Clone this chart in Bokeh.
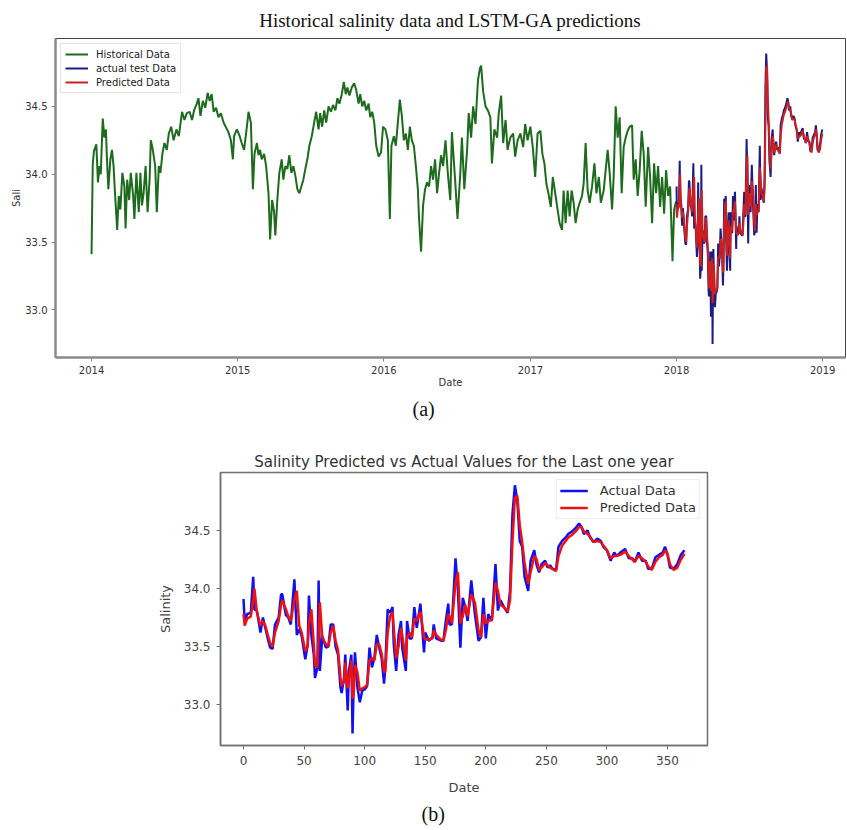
import numpy as np
from datetime import datetime
from bokeh.plotting import figure
from bokeh.models import (Range1d, FixedTicker, DatetimeTickFormatter, Title,
                          Legend, LegendItem, PrintfTickFormatter)
from bokeh.embed import file_html
from bokeh.resources import INLINE

# ---------------- data ----------------
# historical salinity: day offset from 2014-01-01, value
hist_day = [0, 3, 6, 12, 16, 20, 23, 28, 32, 36, 38, 42, 47, 51, 55, 59, 64, 68, 72, 77,
            82, 85, 89, 94, 98, 104, 107, 112, 118, 122, 126, 130, 135, 140, 145, 148, 153, 159, 163, 168,
            172, 177, 182, 188, 193, 199, 205, 212, 218, 226, 232, 238, 245, 251, 256, 263, 267, 272, 278, 284,
            290, 295, 300, 305, 311, 317, 323, 330, 335, 342, 348, 353, 356, 363, 370, 375, 381, 388, 392, 398,
            403, 407, 413, 417, 421, 425, 431, 436, 442, 446, 451, 456, 459, 464, 469, 475, 479, 484, 489, 494,
            499, 504, 509, 514, 519, 524, 529, 534, 539, 544, 550, 556, 561, 567, 571, 576, 581, 586, 592, 598,
            603, 609, 614, 619, 625, 630, 635, 639, 644, 650, 656, 661, 667, 671, 676, 681, 686, 692, 696, 701,
            706, 711, 717, 723, 728, 734, 740, 745, 749, 755, 760, 765, 770, 775, 780, 785, 790, 795, 800, 805,
            810, 815, 818, 823, 828, 833, 838, 843, 848, 853, 858, 863, 868, 873, 878, 884, 890, 896, 900, 908,
            914, 921, 925, 931, 938, 942, 948, 953, 959, 965, 970, 973, 978, 984, 990, 996, 1000, 1006, 1013, 1017,
            1023, 1028, 1034, 1039, 1046, 1053, 1058, 1064, 1071, 1078, 1083, 1089, 1096, 1102, 1108, 1114, 1121, 1126, 1131, 1136,
            1141, 1147, 1152, 1158, 1164, 1169, 1175, 1179, 1184, 1189, 1194, 1199, 1204, 1209, 1214, 1219, 1225, 1229, 1234, 1239,
            1244, 1250, 1256, 1261, 1267, 1272, 1279, 1284, 1289, 1294, 1300, 1304, 1309, 1314, 1319, 1324, 1329, 1334, 1339, 1344,
            1350, 1354, 1359, 1364, 1369, 1374, 1379, 1384, 1390, 1395, 1400, 1405, 1410, 1415, 1420, 1425, 1430, 1435, 1440, 1445,
            1451, 1455, 1460]
hist_sal = [33.41, 34.07, 34.17, 34.22, 33.94, 34.06, 34.00, 34.41, 34.27, 34.33, 34.15, 33.89, 34.11, 34.18, 34.06, 33.84, 33.59, 33.84, 33.74, 34.01,
            33.91, 33.60, 33.96, 33.81, 34.01, 33.84, 33.67, 34.01, 33.72, 34.01, 33.77, 33.86, 34.06, 33.72, 33.96, 34.25, 34.18, 34.06, 33.72, 34.06,
            34.01, 34.15, 34.23, 34.18, 34.30, 34.35, 34.25, 34.33, 34.28, 34.46, 34.40, 34.45, 34.46, 34.40, 34.47, 34.52, 34.56, 34.43, 34.54, 34.49,
            34.60, 34.54, 34.59, 34.46, 34.49, 34.42, 34.45, 34.38, 34.35, 34.31, 34.25, 34.11, 34.28, 34.33, 34.28, 34.23, 34.18, 34.35, 34.46, 34.38,
            33.89, 34.15, 34.23, 34.14, 34.18, 34.11, 34.15, 34.06, 33.86, 33.52, 33.81, 33.72, 33.55, 33.81, 34.01, 34.11, 33.96, 34.06, 34.04, 34.14,
            34.01, 34.06, 33.99, 33.89, 33.86, 33.91, 33.96, 34.04, 34.11, 34.21, 34.28, 34.38, 34.46, 34.33, 34.45, 34.35, 34.47, 34.38, 34.50, 34.46,
            34.51, 34.47, 34.56, 34.52, 34.59, 34.68, 34.59, 34.64, 34.58, 34.64, 34.67, 34.62, 34.52, 34.59, 34.50, 34.54, 34.47, 34.52, 34.42, 34.46,
            34.38, 34.21, 34.13, 34.16, 34.35, 34.33, 34.25, 33.67, 34.21, 34.28, 34.21, 34.38, 34.55, 34.43, 34.25, 34.30, 34.18, 34.35, 34.25, 34.21,
            34.06, 33.89, 33.67, 33.43, 33.77, 33.89, 33.94, 33.91, 34.06, 33.96, 34.11, 33.86, 34.01, 34.14, 34.06, 34.25, 34.00, 33.81, 34.31, 33.96,
            33.67, 34.01, 34.27, 33.89, 34.18, 34.45, 34.27, 34.50, 34.37, 34.69, 34.78, 34.80, 34.61, 34.50, 34.47, 34.42, 34.08, 34.33, 34.27, 34.45,
            34.58, 34.23, 34.40, 34.18, 34.27, 34.30, 34.13, 34.25, 34.30, 34.20, 34.37, 34.25, 34.35, 34.20, 33.98, 34.30, 34.32, 34.15, 34.08, 33.93,
            33.86, 33.76, 33.98, 33.86, 33.74, 33.64, 33.59, 33.88, 33.64, 33.88, 33.69, 33.88, 33.79, 33.64, 33.74, 33.79, 33.84, 33.93, 34.23, 33.88,
            33.79, 33.91, 34.08, 33.86, 33.98, 33.79, 33.88, 34.03, 34.18, 34.01, 33.74, 33.98, 34.50, 34.27, 34.42, 33.86, 34.20, 34.27, 34.32, 34.35,
            34.36, 33.96, 34.11, 33.84, 34.03, 34.32, 34.15, 33.76, 34.20, 33.98, 33.64, 34.08, 33.86, 34.06, 33.76, 33.98, 33.71, 34.03, 33.84, 33.91,
            33.36, 33.74, 33.80]

# last year (test period): day index from 2018-01-01
test_day = [0, 1, 3, 6, 8, 9, 11, 14, 16, 18, 20, 22, 24, 26, 29, 31, 32, 35, 37, 39,
            42, 44, 46, 48, 51, 53, 54, 56, 58, 59, 61, 62, 63, 65, 68, 70, 72, 74, 76, 78,
            80, 81, 83, 84, 86, 87, 89, 90, 91, 92, 94, 96, 98, 100, 102, 104, 106, 108, 110, 112,
            114, 116, 117, 119, 121, 123, 124, 126, 128, 130, 131, 134, 135, 137, 139, 141, 143, 146, 149, 150,
            153, 156, 157, 159, 163, 165, 167, 169, 170, 172, 175, 177, 179, 181, 183, 185, 188, 191, 194, 196,
            198, 200, 202, 205, 208, 210, 212, 215, 218, 220, 222, 224, 226, 228, 230, 232, 235, 237, 240, 242,
            244, 246, 249, 251, 253, 255, 258, 260, 263, 266, 268, 271, 274, 277, 279, 281, 284, 286, 289, 292,
            295, 297, 300, 303, 306, 308, 311, 315, 318, 321, 323, 326, 329, 332, 334, 337, 340, 343, 346, 348,
            350, 352, 355, 358, 361, 364]
actual_sal = [33.91, 33.71, 33.78, 33.79, 34.10, 33.82, 33.81, 33.62, 33.75, 33.66, 33.57, 33.49, 33.48, 33.69, 33.75, 33.95, 33.95, 33.77, 33.75, 33.69,
              34.08, 33.60, 33.65, 33.59, 33.39, 33.52, 33.94, 33.60, 33.43, 33.23, 33.32, 34.07, 33.29, 33.59, 33.49, 33.50, 33.69, 33.69, 33.50, 33.43,
              33.15, 33.10, 33.23, 33.43, 32.95, 33.29, 33.43, 32.75, 33.20, 33.45, 33.15, 33.02, 33.12, 33.13, 33.16, 33.49, 33.32, 33.40, 33.60, 33.49,
              33.40, 33.18, 33.32, 33.82, 33.79, 33.84, 33.52, 33.29, 33.60, 33.72, 33.49, 33.29, 33.72, 33.57, 33.57, 33.84, 33.66, 33.87, 33.45, 33.62,
              33.55, 33.58, 33.69, 33.57, 33.55, 33.55, 33.72, 33.87, 33.69, 33.69, 34.26, 33.98, 33.49, 33.92, 33.84, 33.72, 34.07, 33.78, 33.55, 33.58,
              33.92, 33.57, 33.78, 33.72, 34.21, 33.81, 33.90, 33.84, 33.79, 33.98, 34.64, 34.89, 34.76, 34.41, 34.36, 34.10, 33.98, 34.24, 34.33, 34.20,
              34.14, 34.21, 34.24, 34.18, 34.20, 34.17, 34.16, 34.36, 34.41, 34.44, 34.47, 34.49, 34.52, 34.56, 34.53, 34.47, 34.50, 34.44, 34.40, 34.43,
              34.41, 34.36, 34.33, 34.24, 34.31, 34.28, 34.31, 34.34, 34.26, 34.26, 34.23, 34.31, 34.24, 34.24, 34.17, 34.17, 34.27, 34.29, 34.31, 34.36,
              34.29, 34.18, 34.17, 34.21, 34.29, 34.33]
pred_sal = [33.78, 33.68, 33.74, 33.76, 33.90, 34.00, 33.80, 33.68, 33.72, 33.68, 33.60, 33.53, 33.50, 33.62, 33.72, 33.86, 33.90, 33.82, 33.76, 33.72,
            33.90, 33.98, 33.68, 33.62, 33.46, 33.50, 33.70, 33.82, 33.52, 33.34, 33.32, 33.60, 33.88, 33.58, 33.52, 33.50, 33.62, 33.68, 33.55, 33.47,
            33.24, 33.16, 33.20, 33.36, 33.14, 33.22, 33.38, 33.05, 33.10, 33.34, 33.28, 33.12, 33.14, 33.15, 33.17, 33.38, 33.40, 33.38, 33.52, 33.52,
            33.44, 33.28, 33.28, 33.62, 33.76, 33.80, 33.66, 33.40, 33.50, 33.66, 33.60, 33.38, 33.58, 33.62, 33.58, 33.74, 33.72, 33.80, 33.58, 33.56,
            33.56, 33.57, 33.64, 33.60, 33.56, 33.55, 33.64, 33.78, 33.76, 33.70, 34.05, 34.14, 33.70, 33.76, 33.86, 33.76, 33.95, 33.88, 33.64, 33.58,
            33.78, 33.70, 33.72, 33.73, 34.05, 33.98, 33.86, 33.84, 33.80, 33.90, 34.40, 34.78, 34.80, 34.55, 34.40, 34.22, 34.04, 34.14, 34.28, 34.25,
            34.16, 34.18, 34.22, 34.20, 34.18, 34.17, 34.15, 34.28, 34.37, 34.41, 34.44, 34.46, 34.49, 34.53, 34.53, 34.49, 34.47, 34.45, 34.40, 34.41,
            34.40, 34.37, 34.33, 34.26, 34.28, 34.28, 34.29, 34.32, 34.28, 34.25, 34.23, 34.28, 34.26, 34.23, 34.19, 34.16, 34.23, 34.27, 34.29, 34.33,
            34.30, 34.21, 34.16, 34.18, 34.25, 34.30]

year_ticks = [2014, 2015, 2016, 2017, 2018, 2019]
sal_ticks = [33.0, 33.5, 34.0, 34.5]
day_ticks = [0, 50, 100, 150, 200, 250, 300, 350]

# ---------------- helpers ----------------
hist_dates = np.datetime64("2014-01-01", "ms") + np.array(hist_day, dtype="timedelta64[D]").astype("timedelta64[ms]")
test_dates = np.datetime64("2018-01-01", "ms") + np.array(test_day, dtype="timedelta64[D]").astype("timedelta64[ms]")
epoch = datetime(1970, 1, 1)
year_ms = [(datetime(y, 1, 1) - epoch).total_seconds() * 1000 for y in year_ticks]

W = 847
HA = 426
HB = 404
SANS = "DejaVu Sans"
SERIF = "Liberation Serif"


def style_axis(ax, line_color, line_width, size, color, standoff):
    ax.axis_line_color = line_color
    ax.axis_line_width = line_width
    ax.major_tick_line_color = line_color
    ax.major_tick_out = 4
    ax.major_tick_in = 0
    ax.minor_tick_line_color = None
    ax.major_label_text_font = SANS
    ax.major_label_text_font_size = size
    ax.major_label_text_color = color
    ax.major_label_standoff = standoff
    ax.axis_label_text_font = SANS
    ax.axis_label_text_font_style = "normal"
    ax.axis_label_text_color = color


# ---------------- panel (a) ----------------
pa = figure(width=W, height=HA, output_backend="svg", toolbar_location=None,
            x_axis_type="datetime",
            x_range=Range1d(datetime(2013, 10, 3), datetime(2019, 2, 27)),
            y_range=Range1d(32.65, 35.0),
            min_border_left=55, min_border_right=2, min_border_top=36, min_border_bottom=HA - 357)
pa.title.text = "Historical salinity data and LSTM-GA predictions"
pa.title.align = "center"
pa.title.text_font = SERIF
pa.title.text_font_size = "19px"
pa.title.text_font_style = "normal"
pa.title.text_color = "#111111"
pa.title.standoff = 15
pa.xgrid.visible = False
pa.ygrid.visible = False
pa.outline_line_color = "#444444"
pa.outline_line_width = 1
pa.xaxis.ticker = FixedTicker(ticks=year_ms)
fmt = "%Y"
pa.xaxis.formatter = DatetimeTickFormatter(years=fmt, months=fmt, days=fmt, hours=fmt, hourmin=fmt,
                                           minutes=fmt, minsec=fmt, seconds=fmt, milliseconds=fmt,
                                           microseconds=fmt, context=None)
pa.yaxis.ticker = FixedTicker(ticks=sal_ticks)
pa.yaxis.formatter = PrintfTickFormatter(format="%.1f")
style_axis(pa.xaxis[0], "#8a8a8a", 2.5, "10px", "#333333", 4)
style_axis(pa.yaxis[0], "#8a8a8a", 2.5, "10px", "#333333", 4)
pa.xaxis.axis_label = "Date"
pa.xaxis.axis_label_text_font_size = "10px"
pa.xaxis.axis_label_standoff = 0
pa.yaxis.axis_label = "Sali"
pa.yaxis.axis_label_text_font_size = "10px"
pa.yaxis.axis_label_standoff = 0

r_hist = pa.line(hist_dates, hist_sal, line_color="#1d6b1d", line_width=2)
r_act = pa.line(test_dates, actual_sal, line_color="#1c1c85", line_width=2)
r_pred = pa.line(test_dates, pred_sal, line_color="#cc1f1f", line_width=2)

leg_a = Legend(items=[LegendItem(label="Historical Data", renderers=[r_hist]),
                      LegendItem(label="actual test Data", renderers=[r_act]),
                      LegendItem(label="Predicted Data", renderers=[r_pred])],
               location="top_left", margin=5, padding=4, spacing=2,
               label_height=12, glyph_height=12, glyph_width=23, label_standoff=8,
               label_text_font=SANS, label_text_font_size="10px", label_text_color="#222222",
               border_line_color="#cccccc", background_fill_alpha=0.9)
pa.add_layout(leg_a)
pa.add_layout(Title(text="(a)", align="left", offset=357, standoff=10,
                    text_font=SERIF, text_font_size="20px", text_font_style="normal",
                    text_color="#111111"), "below")

# ---------------- panel (b) ----------------
pb = figure(width=W, height=HB, output_backend="svg", toolbar_location=None,
            x_range=Range1d(-19.0, 383.0), y_range=Range1d(32.647, 35.0),
            min_border_left=220, min_border_right=W - 707, min_border_top=472 - HA,
            min_border_bottom=HA + HB - 745)
pb.title.text = "Salinity Predicted vs Actual Values for the Last one year"
pb.title.align = "center"
pb.title.text_font = SANS
pb.title.text_font_size = "15px"
pb.title.text_font_style = "normal"
pb.title.text_color = "#333333"
pb.title.standoff = 3
pb.xgrid.visible = False
pb.ygrid.visible = False
pb.outline_line_color = "#707070"
pb.outline_line_width = 1.5
pb.xaxis.ticker = FixedTicker(ticks=day_ticks)
pb.yaxis.ticker = FixedTicker(ticks=sal_ticks)
pb.yaxis.formatter = PrintfTickFormatter(format="%.1f")
style_axis(pb.xaxis[0], "#707070", 1.5, "12px", "#444444", 6)
style_axis(pb.yaxis[0], "#707070", 1.5, "12px", "#444444", 6)
pb.xaxis.axis_label = "Date"
pb.xaxis.axis_label_text_font_size = "13px"
pb.xaxis.axis_label_standoff = 12
pb.yaxis.axis_label = "Salinity"
pb.yaxis.axis_label_text_font_size = "13px"
pb.yaxis.axis_label_standoff = 8

rb_act = pb.line(test_day, actual_sal, line_color="#1010f0", line_width=2.5)
rb_pred = pb.line(test_day, pred_sal, line_color="#f01010", line_width=2.5)

leg_b = Legend(items=[LegendItem(label="Actual Data", renderers=[rb_act]),
                      LegendItem(label="Predicted Data", renderers=[rb_pred])],
               location="top_right", margin=7, padding=3, spacing=2,
               label_height=13, glyph_height=13, glyph_width=28, label_standoff=12,
               label_text_font=SANS, label_text_font_size="13px", label_text_color="#333333",
               border_line_color="#dddddd", background_fill_alpha=0.9)
pb.add_layout(leg_b)
pb.add_layout(Title(text="(b)", align="left", offset=201, standoff=6,
                    text_font=SERIF, text_font_size="20px", text_font_style="normal",
                    text_color="#111111"), "below")

open("out.html", "w").write(file_html([pa, pb], INLINE))
